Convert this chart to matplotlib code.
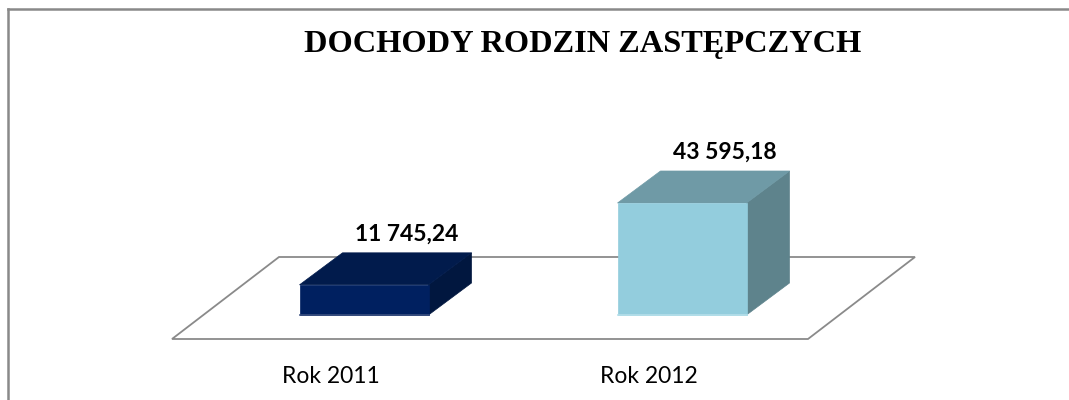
import matplotlib
matplotlib.use("Agg")
import matplotlib.pyplot as plt
import matplotlib.patches as patches
from matplotlib.lines import Line2D

# Data
categories = ["Rok 2011", "Rok 2012"]
values = [11745.24, 43595.18]
title = "DOCHODY RODZIN ZASTĘPCZYCH"

front_colors = ["#002060", "#93cddd"]
top_colors = ["#011b4c", "#6f9aa6"]
side_colors = ["#01173f", "#5e838c"]
edge_colors = ["#3a4f80", "#b5dfea"]

W, H = 1069, 400
fig = plt.figure(figsize=(W / 100, H / 100), dpi=100)
ax = fig.add_axes([0, 0, 1, 1])
ax.axis("off")

# pixel -> data units
ux = 1 / 318.0          # category units per pixel
uy = 43595.18 / 112.0   # value units per pixel
ax.set_xlim(-0.5 - 172 * ux, -0.5 + (W - 172) * ux)
ax.set_ylim(-85 * uy, 315 * uy)

fmt = lambda v: f"{v:,.2f}".replace(",", " ").replace(".", ",")

# floor
fy = -24 * uy
ddx, ddy = 107 * ux, 82 * uy
n = len(categories)
floor = [(-0.5, fy), (n - 0.5, fy), (n - 0.5 + ddx, fy + ddy), (-0.5 + ddx, fy + ddy)]
ax.add_patch(patches.Polygon(floor, closed=True, facecolor="white",
                             edgecolor="#8a8a8a", linewidth=1.3, zorder=1))

# bars
bw = 129 * ux
off = 33 * ux
bdx, bdy = 43 * ux, 32 * uy
for i, v in enumerate(values):
    x0 = i + off - bw / 2
    x1 = x0 + bw
    front = [(x0, 0), (x1, 0), (x1, v), (x0, v)]
    top = [(x0, v), (x1, v), (x1 + bdx, v + bdy), (x0 + bdx, v + bdy)]
    side = [(x1, 0), (x1 + bdx, bdy), (x1 + bdx, v + bdy), (x1, v)]
    ax.add_patch(patches.Polygon(side, closed=True, facecolor=side_colors[i],
                                 edgecolor=side_colors[i], linewidth=0.5, zorder=2))
    ax.add_patch(patches.Polygon(top, closed=True, facecolor=top_colors[i],
                                 edgecolor=top_colors[i], linewidth=0.5, zorder=2))
    ax.add_patch(patches.Polygon(front, closed=True, facecolor=front_colors[i],
                                 edgecolor=front_colors[i], linewidth=0.5, zorder=3))
    ax.plot([x0, x1], [0, 0], color=edge_colors[i], lw=1.2, zorder=4)
    ax.text(x0 + bw / 2 + bdx, v + bdy + 12 * uy, fmt(v), ha="center", va="baseline",
            fontsize=16.5, fontweight="bold", family="Lato", color="#000000")

for i, c in enumerate(categories):
    ax.text(i, fy - 44 * uy, c, ha="center", va="baseline", fontsize=16.5,
            family="Lato", color="#000000")

fig.text(582.5 / W, 1 - 52 / H, title, ha="center", va="baseline", fontsize=23.3,
         fontweight="bold", family="Liberation Serif", color="#000000")

# chart border (top and left visible)
fig.add_artist(Line2D([8 / W, 1], [1 - 9 / H, 1 - 9 / H], color="#898989", lw=1.8))
fig.add_artist(Line2D([8 / W, 8 / W], [0, 1 - 9 / H], color="#898989", lw=1.8))

fig.savefig("out.png", dpi=100, facecolor="white")
